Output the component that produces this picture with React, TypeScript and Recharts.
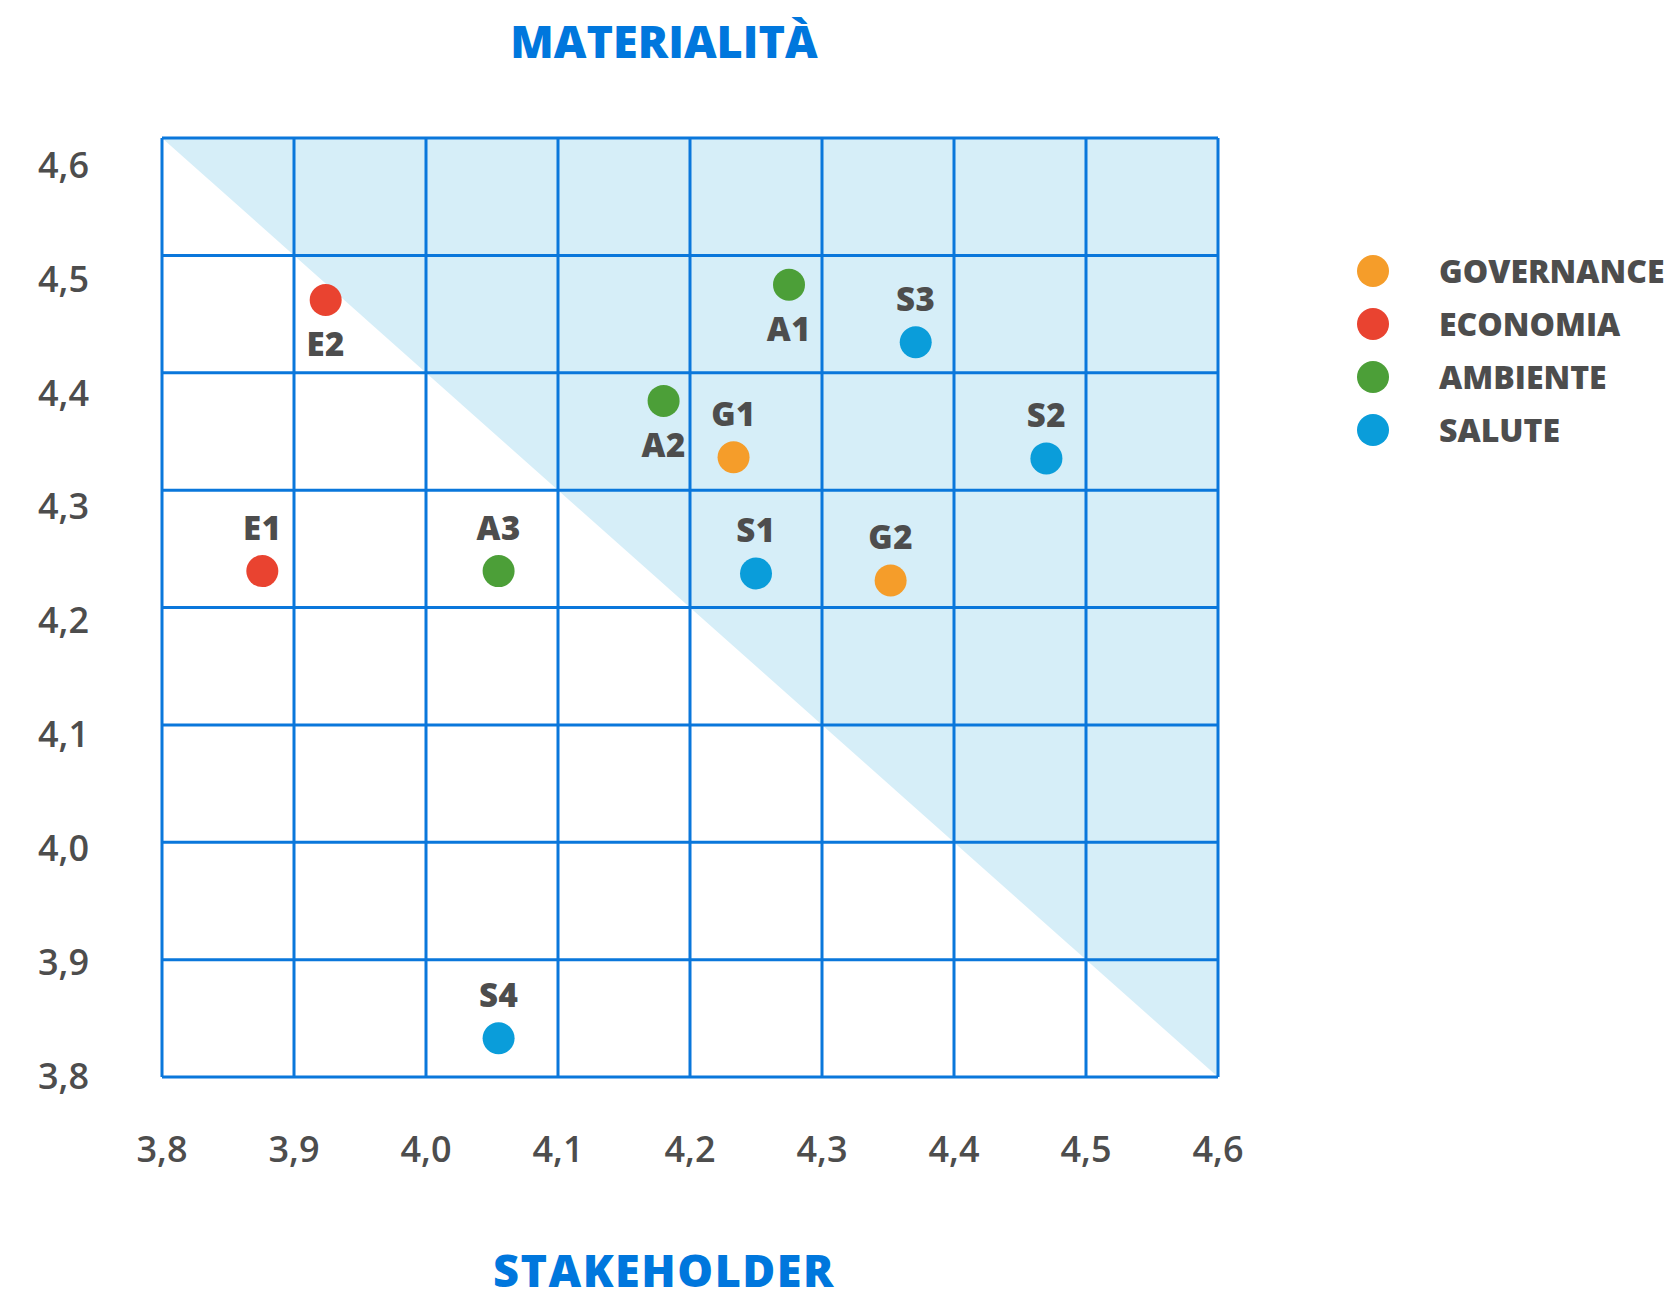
import React from 'react';
import { ComposedChart, Area, Scatter, XAxis, YAxis, CartesianGrid, Legend } from 'recharts';

const xTicks = [3.8, 3.9, 4.0, 4.1, 4.2, 4.3, 4.4, 4.5, 4.6];
const yTicks = [3.8, 3.9, 4.0, 4.1, 4.2, 4.3, 4.4, 4.5, 4.6];

// diagonal bounding the shaded "material" zone
const diagonal = [
  { x: 3.8, y: 4.6 },
  { x: 4.6, y: 3.8 },
];

const governance = [
  { name: 'G1', x: 4.233, y: 4.328, pos: 'top' },
  { name: 'G2', x: 4.352, y: 4.223, pos: 'top' },
];
const economia = [
  { name: 'E1', x: 3.876, y: 4.231, pos: 'top' },
  { name: 'E2', x: 3.924, y: 4.462, pos: 'bottom' },
];
const ambiente = [
  { name: 'A1', x: 4.275, y: 4.475, pos: 'bottom' },
  { name: 'A2', x: 4.18, y: 4.376, pos: 'bottom' },
  { name: 'A3', x: 4.055, y: 4.231, pos: 'top' },
];
const salute = [
  { name: 'S1', x: 4.25, y: 4.229, pos: 'top' },
  { name: 'S2', x: 4.47, y: 4.327, pos: 'top' },
  { name: 'S3', x: 4.371, y: 4.426, pos: 'top' },
  { name: 'S4', x: 4.055, y: 3.833, pos: 'top' },
];

const seriesNames = ['GOVERNANCE', 'ECONOMIA', 'AMBIENTE', 'SALUTE'];
const seriesColors = ['#F59D2A', '#E94330', '#4C9F38', '#0A9DDA'];
const seriesData = [governance, economia, ambiente, salute];

const FONT = '"Open Sans", "Noto Sans", sans-serif';
const GRAY = '#4D4D4D';
const BLUE = '#0A77DB';
const TITLE_BLUE = '#0077DD';

const fmt = (v: number) => v.toFixed(1).replace('.', ',');

const makeShape = (color: string) => (props: any) => {
  const { cx, cy, payload } = props;
  if (cx == null || cy == null) return null;
  const below = payload && payload.pos === 'bottom';
  return (
    <g>
      <circle cx={cx} cy={cy} r={16} fill={color} />
      <text
        x={cx}
        y={below ? cy + 44 : cy - 44}
        textAnchor="middle"
        dominantBaseline="central"
        fontFamily={FONT}
        fontWeight={800}
        fontSize={33}
        letterSpacing={0.5}
        fill={GRAY}
      >
        {payload.name}
      </text>
    </g>
  );
};

const renderLegend = (props: any) => {
  const payload = (props.payload || [])
    .filter((p: any) => seriesNames.indexOf(p.value) >= 0)
    .sort((a: any, b: any) => seriesNames.indexOf(a.value) - seriesNames.indexOf(b.value));
  return (
    <div style={{ display: 'flex', flexDirection: 'column' }}>
      {payload.map((entry: any, i: number) => (
        <div key={i} style={{ height: 53, display: 'flex', alignItems: 'center' }}>
          <span
            style={{
              width: 32,
              height: 32,
              borderRadius: 16,
              background: entry.color,
              display: 'inline-block',
              flex: 'none',
            }}
          />
          <span
            style={{
              marginLeft: 50,
              fontFamily: FONT,
              fontWeight: 800,
              fontSize: 32,
              color: GRAY,
              lineHeight: '53px',
              whiteSpace: 'nowrap',
            }}
          >
            {entry.value}
          </span>
        </div>
      ))}
    </div>
  );
};

export default function App() {
  return (
    <div style={{ position: 'relative', width: 1680, height: 1295, margin: '-8px 0 0 -8px', background: '#fff' }}>
      {/* back layer: shaded triangle above the diagonal */}
      <div style={{ position: 'absolute', left: 0, top: 0 }}>
        <ComposedChart
          width={1680}
          height={1295}
          data={diagonal}
          margin={{ top: 138, right: 462, bottom: 218, left: 162 }}
        >
          <XAxis dataKey="x" type="number" domain={[3.8, 4.6]} ticks={xTicks} allowDataOverflow hide />
          <YAxis type="number" domain={[3.8, 4.6]} ticks={yTicks} allowDataOverflow hide />
          <Area
            dataKey="y"
            type="linear"
            baseValue={4.6}
            fill="#D6EEF8"
            fillOpacity={1}
            stroke="none"
            legendType="none"
            isAnimationActive={false}
            dot={false}
            activeDot={false}
          />
        </ComposedChart>
      </div>
      {/* front layer: grid, axes, points, legend */}
      <div style={{ position: 'absolute', left: 0, top: 0 }}>
        <ComposedChart
          width={1680}
          height={1295}
          margin={{ top: 138, right: 462, bottom: 138, left: 0 }}
        >
          <XAxis
            dataKey="x"
            type="number"
            domain={[3.8, 4.6]}
            ticks={xTicks}
            interval={0}
            allowDataOverflow
            axisLine={false}
            tickLine={false}
            tickSize={0}
            tickMargin={59}
            height={80}
            tickFormatter={fmt}
            tick={{ fontFamily: FONT, fontSize: 36, fontWeight: 600, fill: GRAY }}
          />
          <YAxis
            yAxisId="main"
            type="number"
            domain={[3.8, 4.6]}
            ticks={yTicks}
            interval={0}
            allowDataOverflow
            hide
          />
          <YAxis
            yAxisId="lab"
            type="number"
            domain={[3.7991, 4.6237]}
            ticks={yTicks}
            interval={0}
            allowDataOverflow
            axisLine={false}
            tickLine={false}
            tickSize={0}
            tickMargin={73}
            width={162}
            tickFormatter={fmt}
            tick={{ fontFamily: FONT, fontSize: 36, fontWeight: 600, fill: GRAY }}
          />
          <CartesianGrid yAxisId="main" stroke={BLUE} strokeWidth={3} fill="none" />
          {seriesData.map((d, i) => (
            <Scatter
              key={seriesNames[i]}
              name={seriesNames[i]}
              yAxisId="main"
              data={d}
              dataKey="y"
              fill={seriesColors[i]}
              shape={makeShape(seriesColors[i])}
              isAnimationActive={false}
            />
          ))}
          <Legend
            layout="vertical"
            align="center"
            verticalAlign="middle"
            wrapperStyle={{ left: 1357, top: 244, width: 323 }}
            content={renderLegend}
          />
        </ComposedChart>
      </div>
      <svg
        width={1680}
        height={1295}
        style={{ position: 'absolute', left: 0, top: 0, pointerEvents: 'none' }}
      >
        <text x={664} y={58} textAnchor="middle" fontFamily={FONT} fontWeight={800} fontSize={45} fill={TITLE_BLUE}>
          MATERIALITÀ
        </text>
        <text x={664} y={1287} textAnchor="middle" fontFamily={FONT} fontWeight={800} fontSize={45} letterSpacing={1.5} fill={TITLE_BLUE}>
          STAKEHOLDER
        </text>
      </svg>
    </div>
  );
}
